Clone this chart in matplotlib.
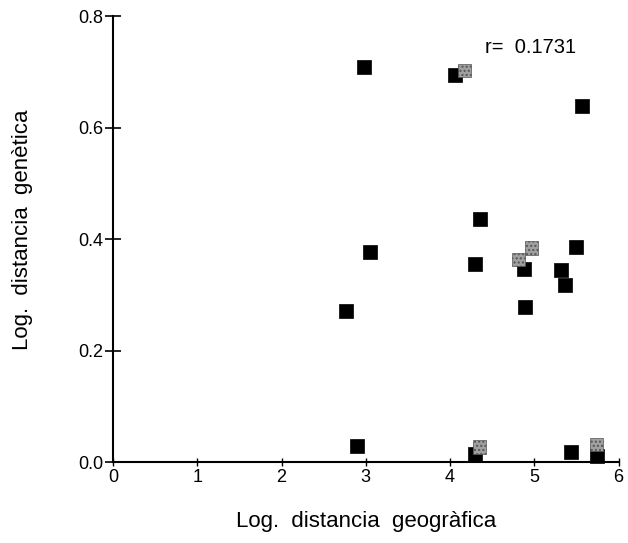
import matplotlib.pyplot as plt

plt.rcParams["font.family"] = ["Liberation Sans", "DejaVu Sans"]

# black squares
x_black = [2.98, 4.06, 5.56, 4.36, 3.05, 4.30, 4.88, 5.50, 5.32, 5.36, 4.89, 2.77, 2.90, 4.30, 5.43, 5.74]
y_black = [0.709, 0.694, 0.639, 0.436, 0.377, 0.355, 0.346, 0.386, 0.344, 0.317, 0.278, 0.271, 0.029, 0.014, 0.018, 0.011]

# grey (dotted) squares
x_grey = [4.17, 4.97, 4.81, 4.35, 5.74]
y_grey = [0.703, 0.384, 0.364, 0.027, 0.032]

r_text = "r=  0.1731"

fig = plt.figure(figsize=(6.28, 5.43), dpi=100)
ax = fig.add_axes([0.180, 0.149, 0.805, 0.8215])

ax.scatter(x_black, y_black, marker="s", s=100, c="black", edgecolors="black",
           linewidths=0.5, clip_on=False, zorder=3)
ax.scatter(x_grey, y_grey, marker="s", s=90, c="#a0a0a0", edgecolors="#555555",
           linewidths=0.5, hatch="....", clip_on=False, zorder=4)

ax.set_xlim(0, 6)
ax.set_ylim(0, 0.8)
ax.set_xticks([0, 1, 2, 3, 4, 5, 6])
ax.set_yticks([0, 0.2, 0.4, 0.6, 0.8])
ax.set_yticklabels(["0.0", "0.2", "0.4", "0.6", "0.8"])

ax.spines["top"].set_visible(False)
ax.spines["right"].set_visible(False)
ax.spines["left"].set_linewidth(1.5)
ax.spines["bottom"].set_linewidth(1.5)
ax.tick_params(axis="y", direction="inout", length=12, width=1.2, labelsize=13, pad=1)
ax.tick_params(axis="x", direction="inout", length=6, width=1, labelsize=13, pad=2)

ax.text(4.42, 0.743, r_text, fontsize=14.5, va="center")

ax.set_xlabel("Log.  distancia  geogràfica", fontsize=16, labelpad=18)
ax.set_ylabel("Log.  distancia  genètica", fontsize=16)
ax.yaxis.set_label_coords(-0.158, 0.52)

fig.savefig("out.png", dpi=100)
